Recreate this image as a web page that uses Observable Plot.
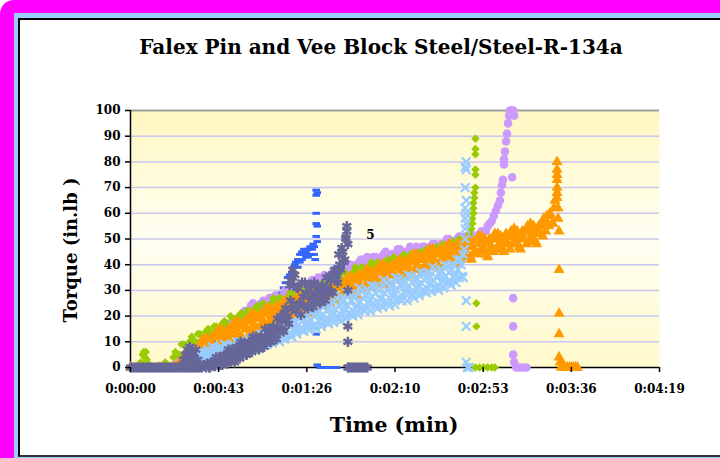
<!DOCTYPE html>
<html><head><meta charset="utf-8">
<script src="https://cdn.jsdelivr.net/npm/d3@7"></script>
<script src="https://cdn.jsdelivr.net/npm/@observablehq/plot@0.6"></script>
<style>
html,body{margin:0;padding:0;width:720px;height:458px;overflow:hidden;background:#fff;font-family:"DejaVu Serif",serif;}
#mag{position:absolute;left:0;top:0;width:760px;height:480px;background:#FF00FF;border-top-left-radius:14px;}
#lb{position:absolute;left:14px;top:13px;width:760px;height:480px;background:#99CCFF;}
#inner{position:absolute;left:18px;top:18px;width:760px;height:435px;background:#fff;border-left:2px solid #000;border-top:2px solid #000;border-bottom:2px solid #333;}
#chart{position:absolute;left:0;top:0;}
.t{position:absolute;font-weight:bold;color:#000;white-space:nowrap;font-family:"DejaVu Serif",serif;}
</style></head>
<body>
<div id="mag"></div><div id="lb"></div><div id="inner"></div>
<div id="chart"></div>
<div class="t" style="left:381px;top:47px;font-size:20px;transform:translate(-50%,-50%);">Falex Pin and Vee Block Steel/Steel-R-134a</div>
<div class="t" style="left:70px;top:250px;font-size:18px;transform:translate(-50%,-50%) rotate(-90deg);">Torque (in.lb )</div>
<div class="t" style="left:394px;top:425px;font-size:20.5px;transform:translate(-50%,-50%);">Time (min)</div>
<script>
// ---- axis ticks ----
const xTickSeconds = [0, 43.2, 86.4, 129.6, 172.8, 216, 259.2];
const xTickLabels = ["0:00:00", "0:00:43", "0:01:26", "0:02:10", "0:02:53", "0:03:36", "0:04:19"];
const yTicks = [0, 10, 20, 30, 40, 50, 60, 70, 80, 90, 100];

// ---- series (time in s, torque in in.lb); ramps are readings every "step" seconds from "start" ----
const blueExtra = [[30,5],[40,10],[50,14],[55,17],[62,24],[64,25],[66,26],[68,27],[70,28],[72,28],[74,29],[75,31],[76,33],[77,35],[78,36],[79,37],[80,39],[80.5,40],[81,41],[82,42],[82,39],[83,44],[83,41],[84,45],[84,42],[85,44],[85,46],[86,45],[86,43],[87,46],[87,43],[88,47],[88,44],[89,46],[89.5,48],[90,47],[90,44],[90.5,42],[91,69],[91.5,68],[91,67],[91,60],[91,56],[91.5,55],[91,51],[91.5,49],[91,13],[91.5,1],[93,0],[95,0],[97,0],[99,0],[101,0]];

const purpleStart = 20, purpleStep = 2;
const purpleRamp = [0,1,3,4,6,7,9,9,11,12,13,13,15,16,17,17,19,20,22,21,25,23,25,23,27,26,27,26,30,28,30,29,32,31,32,31,35,34,35,34,38,37,38,37,40,39,41,39,43,41,43,41,44,43,44,43,46,44,45,44,47,45,47,45,48,47,48,46,50,48,50,48,51,50,51,50,53];
const purpleStartB = 21, purpleStepB = 2;
const purpleRampB = [0,2,3,5,6,8,8,10,11,12,13,14,15,16,17,18,19,21,22,24,23,24,26,25,26,28,27,28,30,29,30,32,30,32,34,32,34,36,35,37,38,37,38,40,39,40,42,40,42,43,42,43,45,43,44,46,44,45,47,45,46,47,46,47,48,47,48,50,48,49,51,49,51,52,50,52];
const purpleExtra = [[4,0],[7,0],[10,0],[13,0],[16,0],[18,0],[174,53],[175,55],[176,56],[177,57],[178,59],[179,61],[180,63],[181,65],[181.5,68],[182,71],[182.5,73],[183,79],[183,81],[183.5,84],[184,88],[184.5,91],[185,95],[185.5,98],[186,100],[186.5,100],[187.5,100],[188,98],[187,74],[187.5,27],[187.5,16],[187.5,5],[188,2],[189,0],[190.5,0],[192,0],[194,0]];

const greenStart = 14, greenStep = 2;
const greenRamp = [0,0,1,0,6,5,9,7,12,10,13,10,15,13,16,14,18,16,19,17,21,19,22,20,24,22,24,22,27,24,27,24,29,26,29,26,31,28,31,29,33,31,34,32,36,34,36,34,39,36,39,36,41,38,40,38,42,40,42,39,44,41,44,41,45,43,45,43,47,45,47,45,49,47,49,47,52];
const greenStartB = 15, greenStepB = 2;
const greenRampB = [0,2,0,4,5,9,6,10,10,13,10,14,14,16,13,17,17,20,16,20,20,22,19,23,22,25,22,25,25,27,24,27,27,29,26,30,29,32,28,32,32,34,31,35,34,37,34,37,37,39,36,39,39,41,38,41,40,43,39,43,42,44,41,44,44,46,42,46,45,48,44,48,47,50,46,50];
const greenExtra = [[0,0],[3,0],[5,2],[6,5],[6.5,6],[7,4],[7.5,6],[8,3],[9,1],[10,0],[12,0],[167,54],[167.5,56],[167.5,58],[168,60],[168,62],[168,64],[168.5,66],[168.5,68],[169,70],[169,75],[169,77],[169,83],[169,85],[169,89],[169.5,25],[169.5,16],[169,0],[171,0],[173,0],[175,0],[177,0],[178.5,0]];

const orangeStart = 20, orangeStep = 1;
const orangeRamp = [0,0,0,0,2,0,0,3,6,0,4,0,7,4,2,8,11,5,9,4,12,8,7,12,15,9,12,8,15,12,10,15,18,12,16,11,18,15,13,19,21,15,19,14,21,18,16,21,23,18,21,16,24,20,18,24,26,20,23,19,26,22,21,26,28,23,26,21,28,25,23,28,31,25,28,24,31,27,25,31,33,27,31,26,33,30,28,33,35,30,33,28,36,32,30,36,38,32,35,31,38,34,32,38,40,34,37,32,40,36,34,39,42,36,39,35,42,38,36,42,44,38,42,37,44,40,39,44,46,40,44,39,46,42,40,46,48,42,45,40,48,44,42,47,49,44,47,42,49,45,44,49,51,45,48,43,50,47,45,50,52,46,49,45,52,48,46,51,54,48,51,46,53,50,48,53,56,50,53,48,55,52,51,56,59,55,59,56,65];
const orangeStartB = 20.5, orangeStepB = 1;
const orangeRampB = [0,0,0,0,0,2,5,0,2,6,0,5,4,7,10,4,7,11,5,10,8,12,14,8,11,14,9,13,11,15,17,12,14,17,12,16,15,18,20,15,17,20,15,19,17,21,23,17,20,23,17,21,20,23,25,20,22,25,20,24,22,25,28,22,24,28,22,26,25,28,30,24,27,30,24,29,27,30,33,27,29,32,27,31,29,33,35,29,32,35,29,33,32,35,37,32,34,37,32,36,34,37,40,34,36,39,33,38,36,39,41,35,38,41,35,40,38,41,44,38,40,43,38,42,40,43,46,40,42,45,40,44,42,45,47,42,44,47,41,45,44,47,49,43,45,49,43,47,45,48,51,45,47,50,44,48,46,50,52,46,48,51,46,50,48,51,53,48,50,53,47,51,50,53,55,49,52,55,49,53,52,55,58,53,56,60,56,62];
const orangeExtra = [[0,0],[5,0],[10,0],[14,0],[17,0],[209,80],[209,77],[209,75],[209,73],[209,70],[209,68],[209,66],[209.5,62],[209.5,58],[210,53],[210,38],[210,21],[210,13],[210,4],[210.5,2],[211,0],[212,1],[213,0],[214,0],[215,0],[216,0],[217,0],[218,0],[219,0]];

const lightBlueStart = 28, lightBlueStep = 1;
const lightBlueRamp = [0,0,2,0,4,3,6,3,5,3,7,5,8,4,6,4,8,6,9,5,7,5,9,7,10,6,8,6,10,8,11,8,10,7,12,10,13,9,12,9,13,11,15,11,14,10,15,13,17,13,16,12,18,15,20,15,18,14,20,17,22,16,20,15,22,19,25,18,22,17,25,21,28,20,24,18,27,23,29,21,26,20,28,24,31,23,27,22,30,26,32,25,29,23,31,27,34,26,30,24,33,29,35,27,32,26,34,30,36,29,33,27,35,32,37,30,34,29,37,33,39,31,35,30,38,34,40,33,37,32,40,36,42,35,40,35];
const lightBlueStartB = 28.5, lightBlueStepB = 1;
const lightBlueRampB = [0,2,0.5,3,2,1,4,6,3,6,4.5,3,5.5,7.5,4,7,5,4,6.5,8.5,5,8,6.5,5.5,7.5,10,6.5,9,7.5,6.5,9,11.5,7.5,11,9,7.5,10.5,13,9,12.5,10.5,9.5,12.5,15,11,14.5,12.5,11,14.5,17.5,12.5,17,14.5,13,16.5,19.5,14.5,19,16.5,14.5,18.5,22,16,21,18,16,20.5,24.5,17.5,23.5,20,17.5,22.5,27,19,25.5,21.5,19,24,28.5,20.5,27,23,20.5,25.5,30,22.5,28.5,25,22,27.5,31.5,24,30,26.5,23.5,29,33,25,31.5,27.5,24.5,30,34.5,26.5,32.5,29,26,31.5,35.5,28,34,30.5,28,33,36.5,29.5,35.5,32,29.5,34,38,31,36.5,33.5,31,35.5,39.5,33,38.5,35,33,38,42,35.5];
const lightBlueExtra = [[163,44],[163.5,46],[164,50],[164,54],[164.5,56],[164,58],[164.5,60],[164,62],[164.5,65],[164,70],[164.5,77],[164,78],[164.5,80],[164.5,26],[164.5,16],[164.5,2],[165,0],[166,0]];

const starStart = 0, starStep = 1;
const starRamp = [0,0,0,0,0,0,0,0,0,0,0,0,0,0,0,0,0,0,0,0,0,0,0,0,0,0,0,0,0,0,0,0,0,0,0,0,1,0,1,0,2,1.5,4,1,3,1,5,3,7,3,6,2,8,6,10,5,8,5,10,8,12,8,10,7,12,10,15,10,13,10,16,14,19,14,18,14,23,20,32,23,32,22,31,25,33,24,29,23,32,27,33,26,30,25,32,29,35,29,34,29,38,36,44,38,45,42,53];
const starStartB = 36.5, starStepB = 1;
const starRampB = [0.5,1.5,0,2,1,0.5,2,4,1,4,3,1.5,4,7,3,7,5,3.5,7,9.5,5,9,7,6,9,12,7.5,11.5,9.5,8,12,15,10,15,12.5,11,15.5,20,14.5,21,18.5,17,26,35,23.5,31,24.5,20.5,27.5,33,23.5,30.5,26,23.5,28.5,32,25.5,31,28,26,31,35.5,29.5,36,34,33,40,46.5,41,50.5];
const starExtra = [[26,3],[27,5],[28,7],[28.5,4],[29,8],[29.5,2],[30,6],[31,4],[32,7],[33,3],[34,1],[78.5,34],[79.5,38],[80.5,36],[105.5,50],[106,55],[106.5,48],[106.5,30],[106.5,16],[106.5,10],[106.5,0],[107,0],[108,0],[109,0],[110,0],[111,0],[112,0],[113,0],[114,0],[115,0],[116,0]];

const labelT = [117.5], labelV = [51.5], labelText = ["5"];

// ---- build tables ----
function ramp(start, step, values) { return values.map((v, i) => ({t: start + i * step, v})); }
function pairs(extra) { return extra.map(([t, v]) => ({t, v})); }
const blue = pairs(blueExtra);
const purple = [...ramp(purpleStart, purpleStep, purpleRamp), ...ramp(purpleStartB, purpleStepB, purpleRampB), ...pairs(purpleExtra)];
const green = [...ramp(greenStart, greenStep, greenRamp), ...ramp(greenStartB, greenStepB, greenRampB), ...pairs(greenExtra)];
const orange = [...ramp(orangeStart, orangeStep, orangeRamp), ...ramp(orangeStartB, orangeStepB, orangeRampB), ...pairs(orangeExtra)];
const lightBlue = [...ramp(lightBlueStart, lightBlueStep, lightBlueRamp), ...ramp(lightBlueStartB, lightBlueStepB, lightBlueRampB), ...pairs(lightBlueExtra)];
const stars = [...ramp(starStart, starStep, starRamp), ...ramp(starStartB, starStepB, starRampB), ...pairs(starExtra)];
const labels = labelT.map((t, i) => ({t, v: labelV[i], s: labelText[i]}));

const dash = {draw(ctx) { ctx.moveTo(-3.8, -1.5); ctx.lineTo(3.8, -1.5); ctx.lineTo(3.8, 1.5); ctx.lineTo(-3.8, 1.5); ctx.closePath(); }};

const svg = Plot.plot({
  width: 720, height: 458,
  marginLeft: 130, marginRight: 61, marginTop: 110, marginBottom: 91,
  style: {background: "transparent", fontFamily: "DejaVu Serif", fontSize: "12px", fontWeight: "bold", color: "#000", overflow: "visible"},
  x: {domain: [0, 259.2]},
  y: {domain: [0, 100]},
  marks: [
    Plot.frame({fill: "url(#plotBg)", stroke: null}),
    Plot.ruleY(yTicks.filter(d => d > 0 && d < 100), {stroke: "#C8C8EE", strokeWidth: 1.5}),
    Plot.ruleY([100], {stroke: "#A0A0A0", strokeWidth: 2}),
    Plot.ruleY([0], {stroke: "#000", strokeWidth: 1.5}),
    Plot.ruleX([0], {stroke: "#000", strokeWidth: 1.5}),
    Plot.dot(blue, {x: "t", y: "v", symbol: dash, r: 3, fill: "#3366FF", stroke: "none"}),
    Plot.dot(purple, {x: "t", y: "v", symbol: "circle", r: 4.3, fill: "#CC99FF", stroke: "none"}),
    Plot.dot(green, {x: "t", y: "v", symbol: "diamond2", r: 3.8, fill: "#99CC00", stroke: "none"}),
    Plot.dot(orange, {x: "t", y: "v", symbol: "triangle", r: 4.1, fill: "#FF9900", stroke: "none"}),
    Plot.dot(lightBlue, {x: "t", y: "v", symbol: "times", r: 4, fill: "none", stroke: "#99CCFF", strokeWidth: 2.2}),
    Plot.dot(stars, {x: "t", y: "v", symbol: "asterisk", r: 4.8, fill: "none", stroke: "#666699", strokeWidth: 2.5}),
    Plot.axisX({ticks: xTickSeconds, tickFormat: d => xTickLabels[xTickSeconds.indexOf(d)], tickSize: 5, tickPadding: 12, label: null, stroke: "#000", strokeWidth: 1.5}),
    Plot.axisY({ticks: yTicks, tickSize: 5, tickPadding: 5, label: null, stroke: "#000", strokeWidth: 1.5}),
    Plot.text(labels, {x: "t", y: "v", text: "s", fontSize: 12, fontWeight: "bold", fill: "#000"})
  ]
});
const defs = document.createElementNS("http://www.w3.org/2000/svg", "defs");
defs.innerHTML = '<linearGradient id="plotBg" x1="0" y1="0" x2="0" y2="1"><stop offset="0" stop-color="#FFF7C0"/><stop offset="0.5" stop-color="#FFFFF2"/><stop offset="1" stop-color="#FFF9CA"/></linearGradient>';
svg.insertBefore(defs, svg.firstChild);
document.getElementById("chart").appendChild(svg);
</script>
</body></html>
